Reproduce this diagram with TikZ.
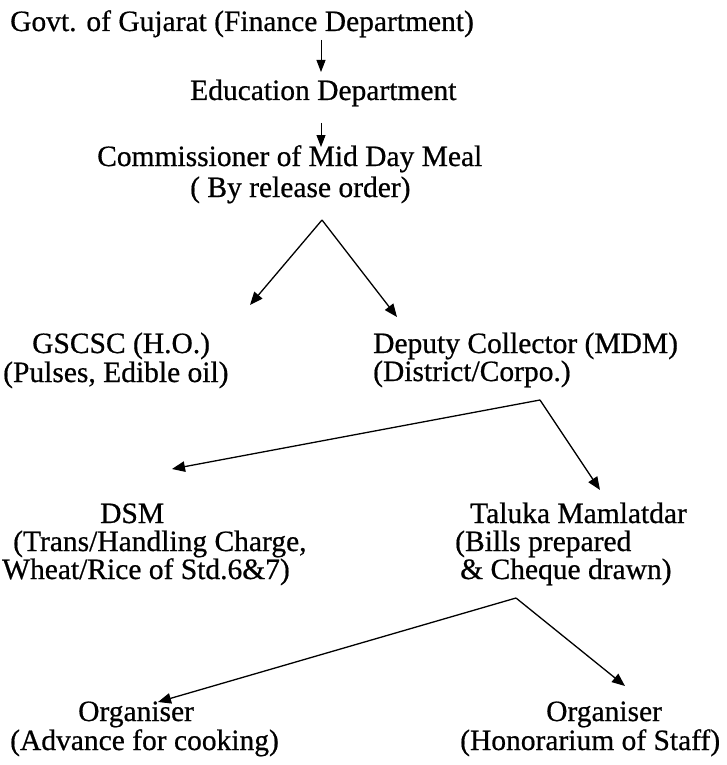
\documentclass[tikz,border=0pt]{standalone}
\usepackage{fontspec}
\setmainfont{Liberation Serif}[FakeBold=0.6]
\usetikzlibrary{arrows.meta}
\begin{document}
\begin{tikzpicture}[x=1pt,y=-1pt,
  lbl/.style={anchor=base west,inner sep=0pt,font=\fontsize{29.5}{30}\selectfont},
  arr/.style={line width=1.3pt,-{Triangle[length=13pt,width=10.5pt]}},
  varr/.style={line width=0.9pt,-{Triangle[length=12pt,width=9pt]}}]
\useasboundingbox[fill=white] (0,0) rectangle (727,765);
\node[lbl] (t1) at (10,31) {Govt. of Gujarat (Finance Department)};
\node[lbl] (t2) at (190,100) {Education Department};
\node[lbl] (t3) at (97,166) {Commissioner of Mid Day Meal};
\node[lbl] (t4) at (190,197) {( By release order)};
\node[lbl] (g1) at (32,353) {GSCSC (H.O.)};
\node[lbl] (g2) at (3,382) {(Pulses, Edible oil)};
\node[lbl] (d1) at (373,353) {Deputy Collector (MDM)};
\node[lbl] (d2) at (373,381) {(District/Corpo.)};
\node[lbl] (s1) at (100,523) {DSM};
\node[lbl] (s2) at (13,551) {(Trans/Handling Charge,};
\node[lbl] (s3) at (2,579) {Wheat/Rice of Std.6\&7)};
\node[lbl] (m1) at (470,523) {Taluka Mamlatdar};
\node[lbl] (m2) at (455,551) {(Bills prepared};
\node[lbl] (m3) at (460,579) {\& Cheque drawn)};
\node[lbl] (o1) at (78,721) {Organiser};
\node[lbl] (o2) at (10,750) {(Advance for cooking)};
\node[lbl] (r1) at (546,721) {Organiser};
\node[lbl] (r2) at (460,750) {(Honorarium of Staff)};
\coordinate (a1s) at (321,40);
\coordinate (a1e) at (321,72);
\coordinate (a2s) at (321,123);
\coordinate (a2e) at (321,147);
\coordinate (c1) at (322,220);
\coordinate (c1l) at (250,305);
\coordinate (c1r) at (397,317);
\coordinate (c2) at (540,400);
\coordinate (c2l) at (172,469);
\coordinate (c2r) at (600,490);
\coordinate (c3) at (516,598);
\coordinate (c3l) at (158,702);
\coordinate (c3r) at (625,686);
\draw[varr] (a1s) -- (a1e);
\draw[varr] (a2s) -- (a2e);
\draw[arr] (c1) -- (c1l);
\draw[arr] (c1) -- (c1r);
\draw[arr] (c2) -- (c2l);
\draw[arr] (c2) -- (c2r);
\draw[arr] (c3) -- (c3l);
\draw[arr] (c3) -- (c3r);
\end{tikzpicture}
\end{document}
